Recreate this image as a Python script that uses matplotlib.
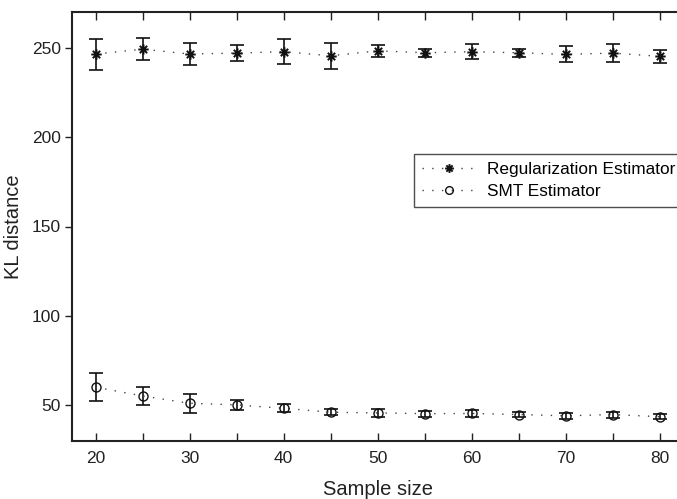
import matplotlib
matplotlib.use("Agg")
import matplotlib.pyplot as plt
from matplotlib.path import Path
import numpy as np

plt.rcParams['font.family'] = ['Liberation Sans', 'DejaVu Sans']

sample_size = [20, 25, 30, 35, 40, 45, 50, 55, 60, 65, 70, 75, 80]

reg_mean = [246.5, 249.2, 246.5, 247.0, 247.8, 245.5, 248.3, 247.2, 247.8, 247.2, 246.3, 247.0, 245.2]
reg_low  = [237.7, 243.0, 240.2, 242.6, 241.0, 237.9, 244.8, 245.0, 243.5, 245.0, 242.2, 241.8, 241.6]
reg_high = [254.7, 255.5, 252.9, 251.3, 254.7, 252.8, 251.3, 249.3, 251.9, 249.1, 250.8, 251.9, 248.6]

smt_mean = [60.1, 55.2, 51.1, 50.2, 48.3, 46.1, 45.7, 45.3, 45.4, 44.8, 44.1, 44.8, 43.6]
smt_low  = [52.2, 50.4, 45.9, 47.4, 46.0, 44.4, 43.6, 43.6, 43.6, 43.3, 42.4, 43.1, 42.1]
smt_high = [68.0, 60.0, 56.2, 53.0, 50.7, 47.8, 47.8, 47.0, 47.2, 46.3, 45.8, 46.5, 45.1]

labels = ["Regularization Estimator", "SMT Estimator"]

# MATLAB-style asterisk marker (plus + cross)
d = 0.7071
verts = [(-1, 0), (1, 0), (0, -1), (0, 1), (-d, -d), (d, d), (-d, d), (d, -d)]
codes = [Path.MOVETO, Path.LINETO] * 4
asterisk = Path(verts, codes)

W, H = 677, 499
fig = plt.figure(figsize=(W / 100, H / 100), dpi=100)
left, right, top, bottom = 72, 683.5, 12, 441
ax = fig.add_axes([left / W, 1 - bottom / H, (right - left) / W, (bottom - top) / H])

x = np.array(sample_size)

def draw(mean, lo, hi, marker, ms, mew, label):
    mean = np.array(mean); lo = np.array(lo); hi = np.array(hi)
    ax.errorbar(x, mean, yerr=[mean - lo, hi - mean], fmt='none', ecolor='#111111',
                elinewidth=1.2, capsize=5, capthick=1.2, zorder=2)
    ax.plot(x, mean, linestyle=(0, (1, 6)), color='#444444', linewidth=1.0,
            marker=marker, markersize=ms, markerfacecolor='none',
            markeredgecolor='#111111', markeredgewidth=mew,
            label=label, zorder=3)

draw(reg_mean, reg_low, reg_high, asterisk, 7.5, 1.4, labels[0])
draw(smt_mean, smt_low, smt_high, 'o', 6.5, 1.0, labels[1])

ax.set_xlim(17.5, 82.5)
ax.set_ylim(30, 270)
ax.set_xticks(np.arange(20, 81, 5))
ax.set_xticklabels([str(v) if v % 10 == 0 else '' for v in range(20, 81, 5)])
ax.set_yticks([50, 100, 150, 200, 250])
ax.tick_params(axis='x', direction='in', top=True, length=6, width=1.0, labelsize=12.5,
               colors='#222222', pad=7)
ax.tick_params(axis='y', direction='out', length=5, width=1.0, labelsize=12.5,
               colors='#222222', pad=3)
for s in ['left', 'bottom', 'top']:
    ax.spines[s].set_linewidth(1.5)
    ax.spines[s].set_color('#222222')
ax.spines['right'].set_visible(False)

ax.set_xlabel("Sample size", fontsize=14.5, color='#222222', labelpad=10)
ax.set_ylabel("KL distance", fontsize=14.5, color='#222222')
ax.yaxis.set_label_coords((23 - left) / (right - left), 0.5)

leg = ax.legend(loc='upper left', bbox_to_anchor=(414 / W, 1 - 154 / H),
                bbox_transform=fig.transFigure, borderaxespad=0, fontsize=12.4,
                frameon=True, fancybox=False, edgecolor='#222222', handlelength=3.2,
                handletextpad=0.6, borderpad=0.45, labelspacing=0.4, markerscale=0.85)
leg.get_frame().set_linewidth(1.0)

fig.savefig("out.png", dpi=100)
